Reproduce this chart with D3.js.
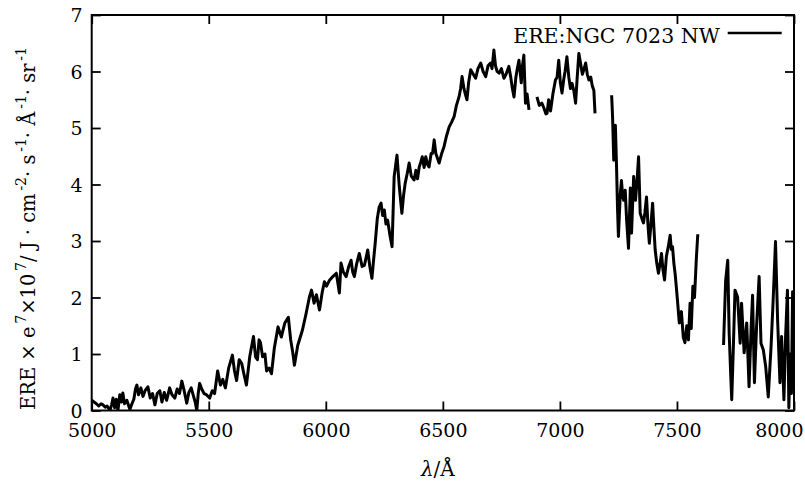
<!DOCTYPE html>
<html>
<head>
<meta charset="utf-8">
<script src="https://cdn.jsdelivr.net/npm/d3@7"></script>
<style>
  body { margin: 0; background: #fff; }
  svg { display: block; font-family: "DejaVu Serif", serif; }
</style>
</head>
<body>
<div id="chart"></div>
<script>
// wavelength (Angstrom) and ERE values, one pair of arrays per spectral piece
const wave1 = [5000,5010,5020,5030,5040,5048,5058,5066,5078,5085,5091,5098,5105,5112,5120,5127,5133,5140,5150,5163,
  5172,5180,5187,5193,5200,5210,5219,5228,5240,5250,5260,5270,5280,5291,5300,5310,5320,5333,5343,5355,
  5365,5375,5385,5395,5406,5415,5425,5433,5442,5449,5455,5461,5470,5480,5490,5504,5515,5525,5538,5550,
  5560,5571,5585,5601,5610,5619,5630,5641,5650,5661,5675,5691,5700,5708,5715,5721,5730,5740,5747,5758,
  5768,5780,5796,5810,5825,5840,5850,5858,5866,5880,5900,5915,5930,5939,5950,5960,5973,5985,5994,6003,
  6015,6030,6045,6058,6065,6075,6087,6098,6108,6115,6122,6132,6143,6155,6165,6172,6179,6188,6197,6205,
  6211,6220,6228,6236,6243,6250,6257,6264,6274,6283,6292,6304,6314,6325,6332,6339,6348,6356,6365,6377,
  6385,6392,6399,6406,6412,6420,6427,6435,6441,6450,6456,6463,6470,6484,6495,6505,6515,6527,6537,6548,
  6558,6569,6576,6582,6590,6596,6603,6610,6619,6630,6640,6650,6662,6672,6683,6693,6704,6710,6718,6725,
  6732,6740,6750,6761,6770,6782,6790,6797,6804,6812,6818,6825,6835,6840,6846,6853,6860,6868];
const ere1 = [0.18,0.15,0.12,0.08,0.12,0.10,0.06,0.08,0.00,0.10,0.22,0.05,0.20,0.00,0.28,0.15,0.31,0.12,0.18,0.02,
  0.12,0.20,0.38,0.45,0.28,0.40,0.25,0.35,0.42,0.22,0.30,0.10,0.30,0.35,0.15,0.32,0.18,0.40,0.28,0.22,
  0.38,0.30,0.52,0.35,0.13,0.32,0.40,0.28,0.15,0.00,0.30,0.48,0.38,0.30,0.28,0.22,0.35,0.30,0.70,0.45,
  0.55,0.40,0.75,0.98,0.70,0.53,0.90,0.83,0.65,0.45,0.95,1.31,0.95,0.90,1.25,1.20,0.95,1.00,0.70,0.75,
  0.65,1.10,1.48,1.30,1.55,1.65,1.25,1.05,0.80,1.15,1.42,1.70,2.01,2.13,1.90,2.05,1.78,2.10,2.28,2.20,
  2.30,2.37,2.43,2.08,2.61,2.45,2.37,2.55,2.66,2.45,2.37,2.60,2.78,2.55,2.57,2.70,2.84,2.55,2.34,2.70,
  2.96,3.40,3.60,3.67,3.45,3.55,3.30,3.37,3.10,2.90,4.14,4.52,3.96,3.49,3.80,4.02,4.20,4.38,4.15,4.08,
  4.25,4.10,4.31,4.40,4.49,4.30,4.49,4.35,4.31,4.55,4.55,4.79,4.55,4.38,4.55,4.67,4.85,5.02,5.10,5.20,
  5.40,5.55,5.70,5.91,5.70,5.60,5.50,5.80,6.03,5.95,5.88,6.05,6.15,6.00,5.91,6.10,6.15,6.05,6.38,6.10,
  6.00,5.97,6.05,5.88,5.95,6.09,5.90,5.70,5.55,5.90,6.05,6.20,5.80,6.10,6.29,5.44,5.60,5.32];

const wave2 = [6902,6912,6923,6932,6940,6945,6952,6960,6970,6981,6988,6995,7002,7009,7016,7022,7030,7038,7045,7052,
  7060,7067,7074,7081,7090,7096,7102,7110,7117,7124,7132,7138,7145,7150];
const ere2 = [5.55,5.40,5.44,5.35,5.25,5.26,5.50,5.30,5.60,5.85,5.90,6.20,5.80,5.62,5.85,6.00,6.26,5.90,5.70,5.79,
  5.65,5.44,5.90,6.32,6.10,5.95,6.03,6.15,5.95,5.85,5.90,5.75,5.67,5.26];

const wave3 = [7221,7225,7230,7237,7242,7246,7250,7258,7263,7268,7272,7279,7285,7293,7301,7306,7315,7323,7330,7336,
  7343,7350,7357,7363,7370,7376,7382,7389,7396,7402,7407,7414,7421,7428,7434,7440,7447,7455,7463,7471,
  7476,7481,7487,7492,7497,7502,7510,7519,7527,7534,7542,7549,7556,7561,7568,7575,7583,7589];
const ere3 = [5.58,5.20,4.43,5.05,4.31,3.60,3.08,3.84,4.07,3.80,3.72,3.90,3.37,2.87,3.94,3.14,4.14,3.72,4.10,4.49,
  3.49,3.40,3.32,3.50,3.78,3.30,2.96,3.30,3.67,3.20,2.84,2.60,2.43,2.60,2.78,2.50,2.31,2.73,2.90,3.10,
  2.85,2.90,2.60,2.43,2.20,1.96,1.55,1.75,1.30,1.20,1.50,1.25,1.90,1.45,2.20,2.00,2.70,3.12];

const wave4 = [7699,7708,7717,7723,7730,7734,7741,7748,7759,7770,7776,7787,7798,7808,7817,7823,7831,7840,7851,7859,
  7869,7879,7890,7902,7911,7921,7930,7940,7947,7957,7964,7972,7978,7984,7989,7994,8000];
const ere4 = [1.16,2.30,2.66,1.37,0.60,0.19,1.13,2.13,2.01,1.19,1.90,1.02,1.55,0.42,1.48,2.04,0.49,1.48,2.37,1.19,
  1.07,0.78,0.24,1.13,1.96,2.99,1.60,0.49,1.31,0.19,1.30,2.13,0.05,1.00,0.30,2.10,1.70];

const xTicks = [5000, 5500, 6000, 6500, 7000, 7500, 8000];
const yTicks = [0, 1, 2, 3, 4, 5, 6, 7];
const legendLabel = "ERE:NGC 7023 NW";

const pieces = [[wave1, ere1], [wave2, ere2], [wave3, ere3], [wave4, ere4]]
  .map(([w, v]) => w.map((d, i) => [d, v[i]]));

const width = 805, height = 481;
const margin = { top: 15, right: 11, bottom: 70.5, left: 91.7 };
const iw = width - margin.left - margin.right, ih = height - margin.top - margin.bottom;

const svg = d3.select("#chart").append("svg")
  .attr("width", width)
  .attr("height", height);

const g = svg.append("g").attr("transform", `translate(${margin.left},${margin.top})`);

const x = d3.scaleLinear().domain([5000, 8000]).range([0, iw]);
const y = d3.scaleLinear().domain([0, 7]).range([ih, 0]);

g.append("clipPath").attr("id", "clip")
  .append("rect").attr("width", iw).attr("height", ih);

const line = d3.line()
  .x(d => x(d[0]))
  .y(d => y(d[1]));

g.append("g").attr("clip-path", "url(#clip)")
  .selectAll("path")
  .data(pieces)
  .enter().append("path")
  .attr("fill", "none")
  .attr("stroke", "#000")
  .attr("stroke-width", 3)
  .attr("stroke-linejoin", "round")
  .attr("d", line);

// axes, ticks pointing inward on every side
const xAxis = g.append("g")
  .attr("transform", `translate(0,${ih})`)
  .call(d3.axisBottom(x).tickValues(xTicks).tickSize(-9).tickFormat(d3.format("d")));
xAxis.selectAll("text").attr("y", 26).attr("dy", null);
xAxis.selectAll("text").filter(d => d === 8000).attr("text-anchor", "end").attr("dx", 9);

g.append("g")
  .call(d3.axisTop(x).tickValues(xTicks).tickSize(-9).tickFormat(""));

const yAxis = g.append("g")
  .call(d3.axisLeft(y).tickValues(yTicks).tickSize(-9).tickFormat(d3.format("d")));
yAxis.selectAll("text").attr("x", -9).attr("dy", "0.36em");

g.append("g")
  .attr("transform", `translate(${iw},0)`)
  .call(d3.axisRight(y).tickValues(yTicks).tickSize(-9).tickFormat(""));

g.selectAll(".domain").remove();
g.selectAll(".tick line").attr("stroke", "#000").attr("stroke-width", 1.8);
g.selectAll(".tick text")
  .style("font-family", "'DejaVu Serif', serif")
  .style("font-size", "19px")
  .attr("fill", "#000");

g.append("rect")
  .attr("width", iw).attr("height", ih)
  .attr("fill", "none").attr("stroke", "#000").attr("stroke-width", 2);

// legend
g.append("text")
  .attr("x", 628).attr("y", 28)
  .attr("text-anchor", "end")
  .style("font-size", "20.5px")
  .text(legendLabel);
g.append("line")
  .attr("x1", 636).attr("x2", 690)
  .attr("y1", 18).attr("y2", 18)
  .attr("stroke", "#000").attr("stroke-width", 2.3);

// axis titles
const xl = svg.append("text")
  .attr("x", margin.left + iw / 2 - 5).attr("y", 476)
  .attr("text-anchor", "middle")
  .style("font-size", "20px");
xl.append("tspan").style("font-style", "italic").text("λ");
xl.append("tspan").text("/Å");

const yl = svg.append("text")
  .attr("transform", "translate(35,410) rotate(-90)")
  .attr("text-anchor", "start")
  .style("font-size", "19.5px");
const parts = [
  ["ERE × e", "7"], ["×10", "7"], ["/ J · cm", "-2"],
  ["· s", "-1"], ["· Å", "-1"], ["· sr", "-1"]
];
parts.forEach(([t, s], i) => {
  yl.append("tspan").attr("dy", i === 0 ? 0 : 9).text(t);
  yl.append("tspan").attr("dy", -9).style("font-size", "14px").text("\u2009" + s);
});
</script>
</body>
</html>
